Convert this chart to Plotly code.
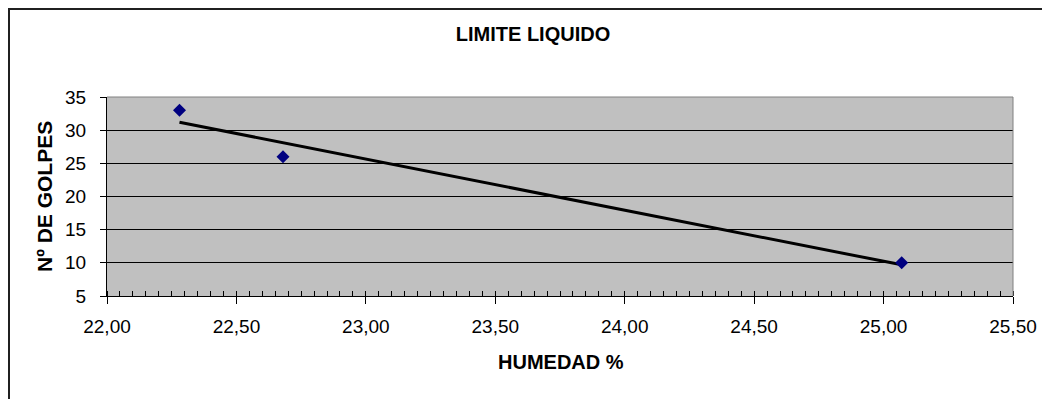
import numpy as np
import plotly.graph_objects as go

# Ensayo de limite liquido
humedad = [22.28, 22.68, 25.07]
golpes = [33, 26, 10]

# Linea de tendencia lineal
pendiente, ordenada = np.polyfit(humedad, golpes, 1)
x_trend = [min(humedad), max(humedad)]
y_trend = [pendiente * x + ordenada for x in x_trend]

# la pagina tiene 8px de margen en el body
W, H = 1042, 391
m_l, m_r, m_t, m_b = 99, 37, 89, 103
pw, ph = W - m_l - m_r, H - m_t - m_b

FONT = 'Liberation Sans, Arial, sans-serif'

fig = go.Figure()

fig.add_trace(go.Scatter(
    x=x_trend, y=y_trend,
    mode='lines',
    line=dict(color='black', width=3),
    showlegend=False,
    hoverinfo='skip',
))
fig.add_trace(go.Scatter(
    x=humedad, y=golpes,
    mode='markers',
    marker=dict(symbol='diamond', color='#000080', size=10),
    showlegend=False,
))

fig.update_layout(
    width=W, height=H,
    margin=dict(l=m_l, r=m_r, t=m_t, b=m_b, pad=0),
    paper_bgcolor='white',
    plot_bgcolor='#C0C0C0',
    separators=',.',
    font=dict(family=FONT, size=19, color='black'),
    title=dict(
        text='<b>LIMITE LIQUIDO</b>',
        x=525 / W, xref='container', xanchor='center',
        y=1 - 26 / H, yref='container', yanchor='middle',
        font=dict(size=20),
    ),
)

fig.update_xaxes(
    range=[22.0, 25.5],
    tick0=22.0, dtick=0.5,
    tickformat='.2f',
    ticks='outside', ticklen=7, tickcolor='black', tickwidth=1,
    ticklabelstandoff=6,
    minor=dict(dtick=0.05, ticks='inside', ticklen=5, tickcolor='black', tickwidth=1,
               showgrid=False),
    showgrid=False, zeroline=False,
    showline=True, linecolor='black', linewidth=1,
    tickfont=dict(size=19),
)
fig.update_yaxes(
    range=[5, 35],
    tick0=5, dtick=5,
    ticks='outside', ticklen=6, tickcolor='black', tickwidth=1,
    ticklabelstandoff=10,
    showgrid=True, gridcolor='black', gridwidth=1,
    zeroline=False,
    showline=True, linecolor='black', linewidth=1,
    tickfont=dict(size=19),
)

# Titulos de ejes
fig.add_annotation(text='<b>HUMEDAD %</b>', xref='paper', yref='paper',
                   x=(553 - m_l) / pw, y=(H - m_b - 354) / ph,
                   xanchor='center', yanchor='middle', showarrow=False,
                   font=dict(size=20))
fig.add_annotation(text='<b>Nº DE GOLPES</b>', xref='paper', yref='paper',
                   x=(36.5 - m_l) / pw, y=0.5, textangle=-90,
                   xanchor='center', yanchor='middle', showarrow=False,
                   font=dict(size=21))

# Borde gris del area de trazado (arriba y derecha)
fig.add_shape(type='line', xref='paper', yref='paper', x0=0, x1=1, y0=1, y1=1,
              line=dict(color='#808080', width=1))
fig.add_shape(type='line', xref='paper', yref='paper', x0=1, x1=1, y0=0, y1=1,
              line=dict(color='#808080', width=1))

# Marco del grafico
fig.add_shape(type='rect', xref='paper', yref='paper',
              x0=(1 - m_l) / pw, x1=(W + 20 - m_l) / pw,
              y0=(H - m_b - (H + 20)) / ph, y1=(H - m_b - 1) / ph,
              line=dict(color='#202020', width=2), layer='below')

fig.write_html("out.html")
